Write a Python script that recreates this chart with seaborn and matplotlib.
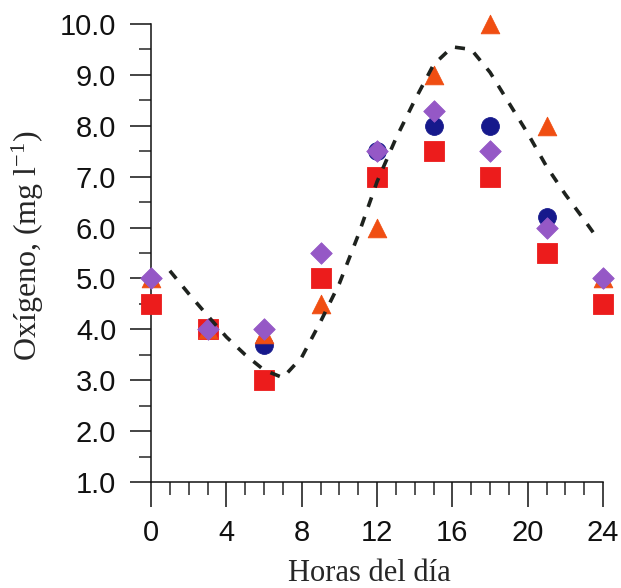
import numpy as np
import pandas as pd
import seaborn as sns
import matplotlib as mpl
mpl.use('Agg')
import matplotlib.pyplot as plt
from matplotlib.ticker import MultipleLocator, FormatStrFormatter

# horas de muestreo
horas = [0, 3, 6, 9, 12, 15, 18, 21, 24]

# oxigeno (mg l-1) por serie
circulos = [4.5, 4.0, 3.7, 5.0, 7.5, 8.0, 8.0, 6.2, 4.5]
cuadrados = [4.5, 4.0, 3.0, 5.0, 7.0, 7.5, 7.0, 5.5, 4.5]
triangulos = [5.0, 4.0, 3.9, 4.5, 6.0, 9.0, 10.0, 8.0, 5.0]
rombos = [5.0, 4.0, 4.0, 5.5, 7.5, 8.3, 7.5, 6.0, 5.0]

# curva ajustada (linea discontinua)
curva_h = [1, 2, 3, 4, 5, 6, 7, 8, 9, 10, 11, 12, 13, 14, 15, 16, 17, 18, 19, 20, 21, 22, 23, 23.6]
curva_v = [5.15, 4.7, 4.27, 3.85, 3.5, 3.2, 3.05, 3.45, 4.15, 4.9, 5.85, 6.9, 7.75, 8.5,
           9.2, 9.55, 9.5, 9.05, 8.45, 7.85, 7.2, 6.65, 6.15, 5.84]

sns.set_style('ticks')
plt.rcParams['font.family'] = ['Liberation Sans', 'DejaVu Sans']
plt.rcParams['mathtext.fontset'] = 'custom'
plt.rcParams['mathtext.rm'] = 'Liberation Serif'
plt.rcParams['mathtext.it'] = 'Liberation Serif:italic'

fig = plt.figure(figsize=(6.21, 5.88), dpi=100)
ax = fig.add_axes([0.2432, 0.1803, 0.7279, 0.7789])

df_curva = pd.DataFrame({'h': curva_h, 'v': curva_v})

# orden de dibujo: circulos, cuadrados, triangulos, rombos
series = [
    (circulos, 'o', '#16198c', 165),
    (cuadrados, 's', '#ec1c1c', 190),
    (triangulos, '^', '#f04e12', 180),
    (rombos, 'D', '#9558c6', 120),
]
for i, (vals, mk, col, sz) in enumerate(series):
    sns.scatterplot(x=horas, y=vals, marker=mk, color=col, s=sz, edgecolor=col,
                    linewidth=0.6, ax=ax, clip_on=False, zorder=3 + i, legend=False)

sns.lineplot(data=df_curva, x='h', y='v', sort=False, color='#1e221e', linewidth=2.6,
             linestyle=(0, (2.8, 2.9)), ax=ax, zorder=10, clip_on=False)

ax.set_xlim(0, 24)
ax.set_ylim(1, 10)
ax.xaxis.set_major_locator(MultipleLocator(4))
ax.xaxis.set_minor_locator(MultipleLocator(1))
ax.yaxis.set_major_locator(MultipleLocator(1))
ax.yaxis.set_minor_locator(MultipleLocator(0.5))
ax.yaxis.set_major_formatter(FormatStrFormatter('%.1f'))

ax.tick_params(axis='x', which='major', direction='out', length=18, width=1.1, pad=9,
               labelsize=21, colors='#111111')
ax.tick_params(axis='x', which='minor', direction='out', length=9.4, width=1.1)
ax.tick_params(axis='y', which='major', direction='out', length=15, width=1.1, pad=10,
               labelsize=21, colors='#111111')
ax.tick_params(axis='y', which='minor', direction='out', length=8.5, width=1.1)

for side in ['top', 'right']:
    ax.spines[side].set_visible(False)
for side in ['left', 'bottom']:
    ax.spines[side].set_linewidth(1.1)
    ax.spines[side].set_color('#111111')

ax.set_xlabel('Horas del día', fontsize=22, family=['Liberation Serif', 'DejaVu Serif'])
ax.set_ylabel('Oxígeno, (mg l$^{-1}$)', fontsize=23, family=['Liberation Serif', 'DejaVu Serif'])
ax.xaxis.set_label_coords(0.484, -0.168)
ax.xaxis.label.set_va('top')
ax.yaxis.set_label_coords(-0.232, 0.517)

fig.savefig('out.png', dpi=100)
